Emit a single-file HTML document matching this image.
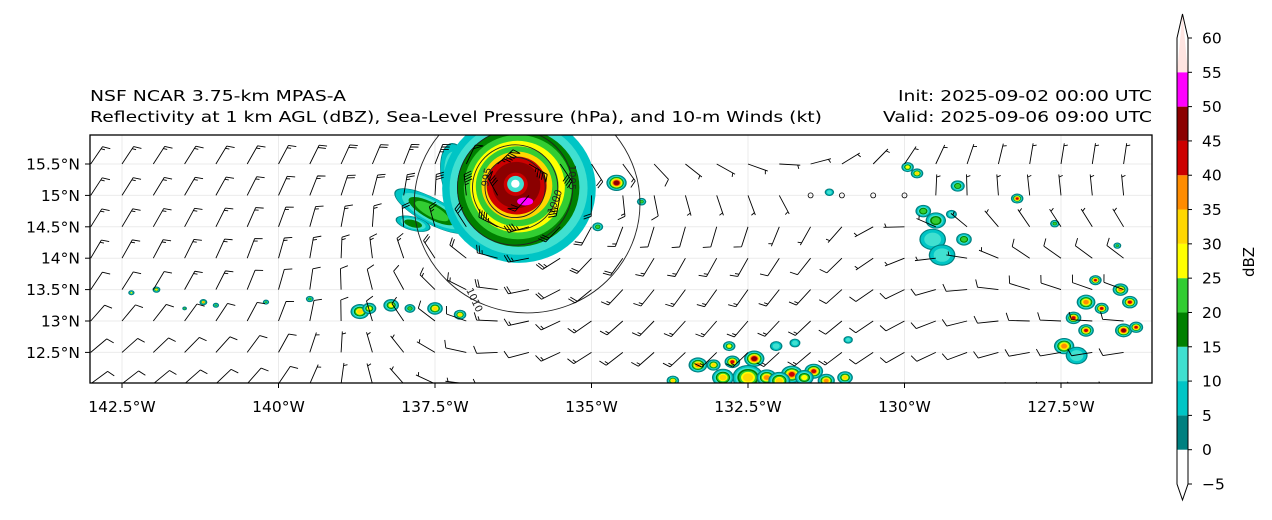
<!DOCTYPE html>
<html><head><meta charset="utf-8"><style>
html,body{margin:0;padding:0;background:#fff;}
svg{display:block;font-family:"DejaVu Sans","Liberation Sans",sans-serif;}
</style></head><body>
<svg id="fig" width="1272" height="520" viewBox="0 0 1272 520">
<defs><clipPath id="ax"><rect x="90" y="135" width="1062" height="248"/></clipPath></defs>
<rect x="0" y="0" width="1272" height="520" fill="#fff"/>
<text x="90" y="101" font-size="15.5" textLength="256" lengthAdjust="spacingAndGlyphs">NSF NCAR 3.75-km MPAS-A</text>
<text x="90" y="122" font-size="15.5" textLength="732" lengthAdjust="spacingAndGlyphs">Reflectivity at 1 km AGL (dBZ), Sea-Level Pressure (hPa), and 10-m Winds (kt)</text>
<text x="898" y="101" font-size="15.5" textLength="254" lengthAdjust="spacingAndGlyphs">Init: 2025-09-02 00:00 UTC</text>
<text x="883" y="122" font-size="15.5" textLength="269" lengthAdjust="spacingAndGlyphs">Valid: 2025-09-06 09:00 UTC</text>
<g id="grid"></g>
<g id="refl" clip-path="url(#ax)"></g>
<g id="contours" clip-path="url(#ax)"></g>
<g id="barbs" clip-path="url(#ax)"></g>
<rect x="90" y="135" width="1062" height="248" fill="none" stroke="#000" stroke-width="1.3"/>
<g id="xt"></g>
<g id="yt"></g>
<g id="cbar"></g>
<text transform="translate(1254,262) rotate(-90)" font-size="15" text-anchor="middle">dBZ</text>
</svg>
<script>
const NS="http://www.w3.org/2000/svg";
const lonTicks=[-142.5,-140,-137.5,-135,-132.5,-130,-127.5];
const lonLabels=["142.5°W","140°W","137.5°W","135°W","132.5°W","130°W","127.5°W"];
const latTicks=[15.5,15,14.5,14,13.5,13,12.5];
const latLabels=["15.5°N","15°N","14.5°N","14°N","13.5°N","13°N","12.5°N"];
const cbLevels=[-5,0,5,10,15,20,25,30,35,40,45,50,55,60];
const cbColors=["#ffffff","#008080","#00c5c5","#40e0d0","#008000","#32cd32","#ffff00","#ffd700","#ff8c00","#cc0000","#8b0000","#ff00ff","#ffe4e1"];
// convective cells: lon, lat, radius (deg), peak dBZ
const cellLon=[-142.35,-141.95,-141.5,-141.2,-141.0,-140.2,-139.5,-138.7,-138.55,-138.2,-137.9,-137.5,-137.1,-134.6,-134.2,-134.9,
-133.7,-133.3,-133.05,-132.75,-132.8,-132.4,-132.5,-132.2,-131.8,-131.45,-131.25,-130.95,-132.05,-131.75,-130.9,
-129.7,-129.5,-129.55,-129.4,-129.05,-129.25,-129.95,-129.8,-129.15,-128.2,-127.6,-126.6,-126.95,-126.55,-126.4,-127.1,-126.85,-127.3,-127.1,-126.5,-127.45,-127.25,-126.3,-131.2,-132.9,-132.0,-131.6];
const cellLat=[13.45,13.5,13.2,13.3,13.25,13.3,13.35,13.15,13.2,13.25,13.2,13.2,13.1,15.2,14.9,14.5,
12.05,12.3,12.3,12.35,12.6,12.4,12.1,12.1,12.15,12.2,12.05,12.1,12.6,12.65,12.7,
14.75,14.6,14.3,14.05,14.3,14.7,15.45,15.35,15.15,14.95,14.55,14.2,13.65,13.5,13.3,13.3,13.2,13.05,12.85,12.85,12.6,12.45,12.9,15.05,12.1,12.05,12.1];
const cellR=[0.04,0.05,0.03,0.05,0.04,0.04,0.05,0.12,0.09,0.1,0.07,0.1,0.08,0.13,0.06,0.07,
0.08,0.12,0.09,0.1,0.08,0.13,0.2,0.13,0.14,0.12,0.11,0.1,0.08,0.07,0.06,
0.1,0.13,0.17,0.17,0.1,0.07,0.08,0.08,0.09,0.08,0.06,0.05,0.08,0.1,0.1,0.12,0.09,0.1,0.1,0.11,0.13,0.14,0.09,0.06,0.14,0.14,0.12];
const cellDbz=[27,32,22,35,22,24,22,34,28,26,24,32,30,46,24,20,
32,36,30,42,26,46,33,38,40,44,36,34,14,12,12,
22,24,14,14,20,12,28,30,22,42,22,20,42,36,44,38,44,44,44,46,36,14,40,12,30,30,28];
// storm rings: radius (deg) and dBZ
const ringR=[1.28,1.15,1.02,0.9,0.79,0.69,0.59,0.5,0.4,0.3,0.2,0.14,0.07];
const ringDbz=[8,12,18,22,28,20,32,40,46,48,44,12,-2];
// pressure contours
const presLevels=[995,1000,1005,1010];
const presRad=[0.48,0.68,0.92,1.8];
// background wind (kt) table: rows lat band (north, mid, south), cols lon band (west, central, east)
const bgU=[[-8,-4,-1],[-7,6,7],[-10,8,10]];
const bgV=[[-8,-6,-10],[-7,7,-7],[-3,6,0]];
const X=lon=>122+(lon+142.5)*62.6;
const Y=lat=>164-(lat-15.5)*62.8;
const storm={lon:-136.22,lat:15.19};
function el(tag,attrs,parent){const e=document.createElementNS(NS,tag);for(const k in attrs)e.setAttribute(k,attrs[k]);parent.appendChild(e);return e;}
function colorFor(d){for(let i=cbLevels.length-2;i>=0;i--){if(d>=cbLevels[i])return cbColors[i];}return null;}
const grid=document.getElementById('grid');
lonTicks.forEach(l=>{const g=el('line',{x1:X(l),x2:X(l),y1:135,y2:383,stroke:'#ebebeb','stroke-width':1},grid);

});
latTicks.forEach(l=>{const g=el('line',{x1:90,x2:1152,y1:Y(l),y2:Y(l),stroke:'#ebebeb','stroke-width':1},grid);

});
const xt=document.getElementById('xt');
lonTicks.forEach((l,i)=>{el('line',{x1:X(l),x2:X(l),y1:383,y2:388,stroke:'#000'},xt);
const t=el('text',{x:X(l),y:412,'font-size':15.5,'text-anchor':'middle'},xt);t.textContent=lonLabels[i];

});
const yt=document.getElementById('yt');
latTicks.forEach((l,i)=>{el('line',{x1:85,x2:90,y1:Y(l),y2:Y(l),stroke:'#000'},yt);
const t=el('text',{x:80,y:Y(l)+5.5,'font-size':15.5,'text-anchor':'end'},yt);t.textContent=latLabels[i];

});
const refl=document.getElementById('refl');
function blob(cx,cy,rx,ry,peak,rot,name){
  const steps=cbLevels.filter(v=>v>=0&&v<=peak);
  const n=steps.length;
  steps.forEach((lv,i)=>{let f;
    if(i==0)f=1;else if(i==1)f=1-1.3/Math.max(rx,ry);else f=(1-1.3/Math.max(rx,ry))*(1-((i-1)/n)*0.9);
    const e=el('ellipse',{cx:cx,cy:cy,rx:Math.max(rx*f,0.8),ry:Math.max(ry*f,0.8),fill:colorFor(lv+0.1),transform:`rotate(${rot} ${cx} ${cy})`},refl);
    
    });
}
blob(X(-137.55),Y(14.75),42,13,20,28,'spiral-band-west');
blob(X(-137.85),Y(14.55),18,7,16,15,'spiral-band-west-tail');
blob(X(-137.15),Y(15.3),16,34,18,-10,'spiral-band-northwest');
blob(X(-136.1),Y(14.25),42,13,40,-5,'spiral-band-south');
blob(X(-135.5),Y(14.7),16,28,26,15,'spiral-band-east');
const cx=X(storm.lon),cy=Y(storm.lat);
ringR.forEach((r,i)=>{const d=ringDbz[i];const c=colorFor(d);const e=el('ellipse',{cx:cx+r*3,cy:cy+r*4,rx:r*60,ry:r*58,fill:c||'#fff'},refl);

});
const mg=el('ellipse',{cx:cx+10,cy:cy+18,rx:8,ry:4,fill:'#ff00ff'},refl);


cellLon.forEach((lo,i)=>{const r=cellR[i]*62.7;blob(X(lo),Y(cellLat[i]),r*1.25,r,cellDbz[i],0,'convective-cell');});
const con=document.getElementById('contours');
presLevels.forEach((p,i)=>{const r=presRad[i]*62.7;const ox=i==3?12:0,oy=i==3?20:4;
 const c=el('ellipse',{cx:cx+ox,cy:cy+oy,rx:r,ry:r*(i==3?0.97:1),fill:'none',stroke:'#222','stroke-width':0.9},con);
 
 
 const ang=[200,20,-10,118][i]*Math.PI/180;
 const lx=cx+ox+Math.cos(ang)*r, ly=cy+oy+Math.sin(ang)*r*(i==3?0.97:1);
 const t=el('text',{x:lx,y:ly+3,'font-size':10,'text-anchor':'middle',transform:`rotate(${[-80,-70,90,65][i]} ${lx} ${ly})`,fill:'#222'},con);
 t.textContent=p;
 
 });
const barbs=document.getElementById('barbs');
function interp(tab,lon,lat){
  const cols=[-141,-132.5,-128], rows=[15.3,13.8,12.3];
  const w=(a,v)=>{if(v<=a[0])return [0,0,0];if(v>=a[2])return [2,2,0];const i=v<a[1]?0:1;return [i,i+1,(v-a[i])/(a[i+1]-a[i])];};
  const [c0,c1,cf]=w(cols,lon);
  const r=lat>=rows[0]?[0,0,0]:lat<=rows[2]?[2,2,0]:(lat>rows[1]?[0,1,(rows[0]-lat)/(rows[0]-rows[1])]:[1,2,(rows[1]-lat)/(rows[1]-rows[2])]);
  const g=(ri)=>tab[ri][c0]*(1-cf)+tab[ri][c1]*cf;
  return g(r[0])*(1-r[2])+g(r[1])*r[2];
}
function wind(lon,lat){
  const dx=(lon-storm.lon)*62.7, dy=(lat-storm.lat)*62.8;
  const r=Math.hypot(dx,dy)+0.01, rm=25;
  const V=r<rm?90*r/rm:90*Math.pow(rm/r,1.1);
  return [-V*dy/r+interp(bgU,lon,lat), V*dx/r+interp(bgV,lon,lat)];
}
for(let la=15.5;la>=12.0-0.01;la-=0.5){
 for(let lo=-143;lo<=-126.4;lo+=0.5){
  const [u,v]=wind(lo,la); const px=X(lo),py=Y(la);
  let sp=Math.round(Math.hypot(u,v)/5)*5;
  if(sp<5){const c=el('circle',{cx:px,cy:py,r:2.5,fill:'none',stroke:'#000','stroke-width':0.8},barbs);
    
    continue;}
  const m=Math.hypot(u,v); const sx=-u/m, sy=v/m;
  const L=21, tx=px+sx*L, ty=py+sy*L;
  let d=`M${px},${py}L${tx},${ty}`;
  const bx=(-sy*0.94+sx*0.34), by=(sx*0.94+sy*0.34);
  let pos=0;
  while(sp>=50){const a=[tx-sx*pos,ty-sy*pos];d+=`M${a[0]},${a[1]}L${a[0]+bx*8},${a[1]+by*8}L${a[0]-sx*4},${a[1]-sy*4}`;pos+=5;sp-=50;}
  while(sp>=10){const a=[tx-sx*pos,ty-sy*pos];d+=`M${a[0]},${a[1]}L${a[0]+bx*8},${a[1]+by*8}`;pos+=2.6;sp-=10;}
  if(sp>=5){if(pos==0)pos=2.6;const a=[tx-sx*pos,ty-sy*pos];d+=`M${a[0]},${a[1]}L${a[0]+bx*4},${a[1]+by*4}`;}
  const b=el('path',{d:d,fill:'none',stroke:'#000','stroke-width':0.9},barbs);
  
  
 }
}
const cb=document.getElementById('cbar');
const cbY=v=>484-(v+5)*(446/65);
for(let i=0;i<cbColors.length;i++){
 const y0=cbY(cbLevels[i+1]),y1=cbY(cbLevels[i]);
 if(i==0){const p=el('path',{d:`M1177,${y0}L1188,${y0}L1182.5,500Z`,fill:cbColors[0]},cb);}
 else if(i==cbColors.length-1){const p=el('path',{d:`M1177,${y1}L1188,${y1}L1182.5,14Z`,fill:cbColors[i]},cb);}
 else{const r=el('rect',{x:1177,y:y0,width:11,height:y1-y0,fill:cbColors[i]},cb);
 
 }
}
const ol=el('path',{d:`M1182.5,14L1188,${cbY(60)}L1188,${cbY(-5)}L1182.5,500L1177,${cbY(-5)}L1177,${cbY(60)}Z`,fill:'none',stroke:'#000','stroke-width':1},cb);


cbLevels.forEach(v=>{el('line',{x1:1188,x2:1192,y1:cbY(v),y2:cbY(v),stroke:'#000'},cb);
 const t=el('text',{x:1202,y:cbY(v)+5.5,'font-size':15.5},cb);t.textContent=v<0?'\u2212'+Math.abs(v):v;
 
 });
</script>
</body></html>
